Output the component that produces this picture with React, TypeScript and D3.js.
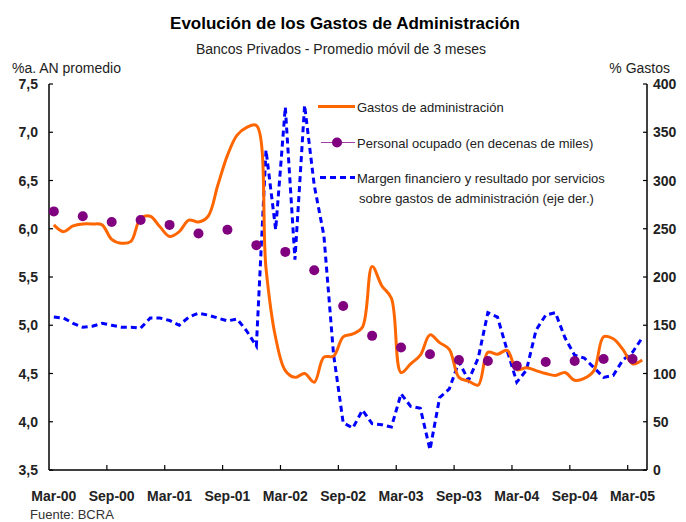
import React from "react";
import * as d3 from "d3";

// monthly categories, Mar-00 .. Apr-05
const months: string[] = [
  "Mar-00", "Apr-00", "May-00", "Jun-00", "Jul-00", "Aug-00", "Sep-00", "Oct-00", "Nov-00", "Dec-00",
  "Jan-01", "Feb-01", "Mar-01", "Apr-01", "May-01", "Jun-01", "Jul-01", "Aug-01", "Sep-01", "Oct-01", "Nov-01", "Dec-01",
  "Jan-02", "Feb-02", "Mar-02", "Apr-02", "May-02", "Jun-02", "Jul-02", "Aug-02", "Sep-02", "Oct-02", "Nov-02", "Dec-02",
  "Jan-03", "Feb-03", "Mar-03", "Apr-03", "May-03", "Jun-03", "Jul-03", "Aug-03", "Sep-03", "Oct-03", "Nov-03", "Dec-03",
  "Jan-04", "Feb-04", "Mar-04", "Apr-04", "May-04", "Jun-04", "Jul-04", "Aug-04", "Sep-04", "Oct-04", "Nov-04", "Dec-04",
  "Jan-05", "Feb-05", "Mar-05", "Apr-05",
];

const tickLabels: string[] = ["Mar-00", "Sep-00", "Mar-01", "Sep-01", "Mar-02", "Sep-02", "Mar-03", "Sep-03", "Mar-04", "Sep-04", "Mar-05"];

// Gastos de administración (%a. AN promedio)
const gastos: number[] = [
  6.04, 5.97, 6.03, 6.05, 6.05, 6.04, 5.89, 5.85, 5.87, 6.11,
  6.13, 6.02, 5.92, 5.97, 6.09, 6.07, 6.13, 6.45, 6.76, 6.97,
  7.05, 7.07, 5.59, 4.87, 4.53, 4.46, 4.5, 4.41, 4.67, 4.68,
  4.88, 4.91, 4.98, 5.61, 5.41, 5.28, 4.51, 4.6, 4.69, 4.9,
  4.82, 4.75, 4.46, 4.42, 4.38, 4.72, 4.7, 4.74, 4.54, 4.56,
  4.53, 4.5, 4.48, 4.51, 4.43, 4.45, 4.53, 4.88, 4.86, 4.75,
  4.6, 4.64,
];

// Margen financiero y resultado por servicios / gastos (eje der.)
const margen: number[] = [
  158.5, 157.5, 152, 148, 149, 152, 150, 148, 148, 147,
  157.5, 157.5, 155, 150, 158.5, 162.5, 160.5, 157.5, 154.5, 156.5,
  144, 128.5, 331.5, 249, 376, 218, 378, 295, 243, 120,
  49, 43.5, 62, 48, 47, 44.5, 79, 66, 64, 21,
  75, 84, 112, 93, 116, 163, 158.5, 124, 91, 103.5,
  145, 160.5, 163, 137, 119, 116, 106, 96, 98, 114,
  122, 137,
];

// Personal ocupado (quarterly, decenas de miles)
const personalMonths: string[] = [
  "Mar-00", "Jun-00", "Sep-00", "Dec-00", "Mar-01", "Jun-01", "Sep-01", "Dec-01",
  "Mar-02", "Jun-02", "Sep-02", "Dec-02", "Mar-03", "Jun-03", "Sep-03", "Dec-03",
  "Mar-04", "Jun-04", "Sep-04", "Dec-04", "Mar-05",
];
const personal: number[] = [
  6.18, 6.13, 6.07, 6.09, 6.04, 5.95, 5.99, 5.83, 5.76, 5.57, 5.2,
  4.89, 4.77, 4.7, 4.64, 4.63, 4.58, 4.62, 4.63, 4.65, 4.65,
];

const leftTicks = [3.5, 4.0, 4.5, 5.0, 5.5, 6.0, 6.5, 7.0, 7.5];
const rightTicks = [0, 50, 100, 150, 200, 250, 300, 350, 400];

const W = 686;
const H = 522;
const font = "'Liberation Sans', Arial, sans-serif";
const ORANGE = "#ff6600";
const BLUE = "#0000ff";
const PURPLE = "#800080";

export default function App() {
  const left = 49, right = 647, top = 84, bottom = 470;

  const x = d3.scaleBand<string>().domain(months).range([left, right]).padding(0);
  const cx = (m: string) => (x(m) as number) + x.bandwidth() / 2;
  const yL = d3.scaleLinear().domain([3.5, 7.5]).range([bottom, top]);
  const yR = d3.scaleLinear().domain([0, 400]).range([bottom, top]);

  const gastosLine = d3
    .line<number>()
    .x((d, i) => cx(months[i]))
    .y((d) => yL(d))
    .curve(d3.curveCatmullRom.alpha(0.5));

  const margenLine = d3
    .line<number>()
    .x((d, i) => cx(months[i]))
    .y((d) => yR(d));

  // ticks between categories, every 6 months
  const xTickPos = tickLabels.slice(1).map((m) => x(m) as number);

  return (
    <svg width={W} height={H} style={{ position: "absolute", left: 0, top: 0 }} fontFamily={font}>
      <rect width={W} height={H} fill="#fff" />

      {/* titles */}
      <text x={345} y={29} textAnchor="middle" fontSize={17} fontWeight="bold" fill="#000">
        Evolución de los Gastos de Administración
      </text>
      <text x={341} y={54} textAnchor="middle" fontSize={14} fill="#222">
        Bancos Privados - Promedio móvil de 3 meses
      </text>
      <text x={12} y={73} fontSize={14} fill="#222">%a. AN promedio</text>
      <text x={670} y={73} textAnchor="end" fontSize={14} fill="#222">% Gastos</text>

      {/* left axis */}
      <line x1={left} x2={left} y1={top} y2={bottom} stroke="#000" strokeWidth={1.5} />
      {leftTicks.map((t) => (
        <g key={"l" + t}>
          <line x1={left} x2={left + 4} y1={yL(t)} y2={yL(t)} stroke="#000" strokeWidth={1.2} />
          <text x={38} y={yL(t) + 5} textAnchor="end" fontSize={14} fontWeight="bold" fill="#222">
            {t.toFixed(1).replace(".", ",")}
          </text>
        </g>
      ))}

      {/* right axis */}
      <line x1={right} x2={right} y1={top} y2={bottom} stroke="#000" strokeWidth={1.5} />
      {rightTicks.map((t) => (
        <g key={"r" + t}>
          <line x1={right - 4} x2={right} y1={yR(t)} y2={yR(t)} stroke="#000" strokeWidth={1.2} />
          <text x={653} y={yR(t) + 5} fontSize={14} fontWeight="bold" fill="#222">
            {t}
          </text>
        </g>
      ))}

      {/* bottom axis */}
      <line x1={left} x2={right} y1={bottom} y2={bottom} stroke="#000" strokeWidth={1.5} />
      {xTickPos.map((p, i) => (
        <line key={"xt" + i} x1={p} x2={p} y1={bottom} y2={bottom - 5} stroke="#000" strokeWidth={1.2} />
      ))}
      {tickLabels.map((m) => (
        <text key={m} x={cx(m)} y={501} textAnchor="middle" fontSize={14} fontWeight="bold" fill="#222">
          {m}
        </text>
      ))}

      {/* series */}
      <path d={margenLine(margen) || ""} fill="none" stroke={BLUE} strokeWidth={3} strokeDasharray="6,4" />
      <path d={gastosLine(gastos) || ""} fill="none" stroke={ORANGE} strokeWidth={3} strokeLinejoin="round" />
      {personal.map((v, i) => (
        <circle key={"p" + i} cx={cx(personalMonths[i])} cy={yL(v)} r={5} fill={PURPLE} />
      ))}

      {/* legend */}
      <line x1={318} x2={355} y1={106.5} y2={106.5} stroke={ORANGE} strokeWidth={3} />
      <text x={357} y={112} fontSize={13} fill="#222">Gastos de administración</text>

      <line x1={321} x2={355} y1={142.5} y2={142.5} stroke="#a040a8" strokeWidth={1} />
      <circle cx={337} cy={142.5} r={5} fill={PURPLE} />
      <text x={357} y={148} fontSize={13} fill="#222">Personal ocupado (en decenas de miles)</text>

      <line x1={320} x2={355} y1={177.5} y2={177.5} stroke={BLUE} strokeWidth={3} strokeDasharray="6,4" />
      <text x={357} y={183} fontSize={13} fill="#222">Margen financiero y resultado por servicios</text>
      <text x={359} y={203} fontSize={13} fill="#222">sobre gastos de administración (eje der.)</text>

      <text x={30} y={519} fontSize={13} fill="#333">Fuente: BCRA</text>
    </svg>
  );
}
